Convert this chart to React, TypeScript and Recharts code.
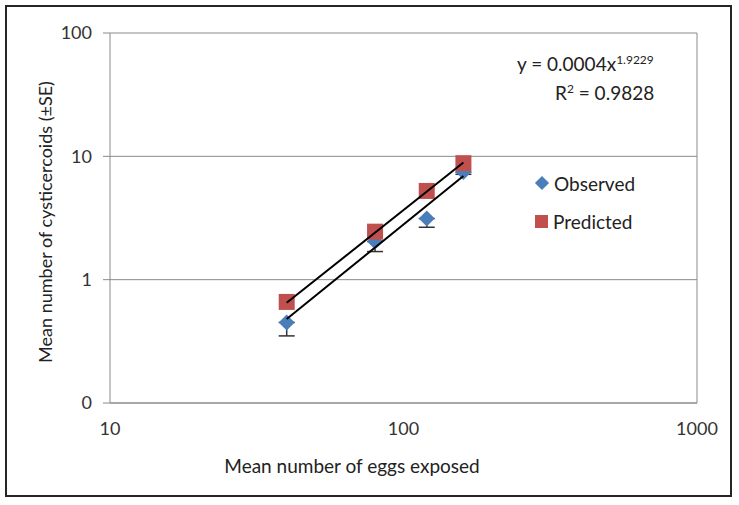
import {
  ScatterChart, Scatter, XAxis, YAxis, CartesianGrid, ErrorBar, ReferenceLine,
} from 'recharts'

const eggs = [40, 80, 120, 160]
const observed = [0.45, 2.04, 3.13, 7.45]
const observedSE = [0.1, 0.35, 0.47, 0.3]
const predicted = [0.66, 2.45, 5.24, 8.8]

const trendX = [40, 160]
const observedTrend = [0.48, 6.92]
const predictedTrend = [0.65, 8.9]

const xTicks = [10, 100, 1000]
const yTicks = [0.1, 1, 10, 100]

const BLUE = '#4a7ebb'
const RED = '#c0504d'
const GRID = '#8a8a8a'
const FONT = 'Lato, "Open Sans", sans-serif'

const obsData = eggs.map((x, i) => ({ x, y: observed[i], se: [observedSE[i], 0] }))
const predData = eggs.map((x, i) => ({ x, y: predicted[i] }))
const obsTrendData = trendX.map((x, i) => ({ x, y: observedTrend[i] }))
const predTrendData = trendX.map((x, i) => ({ x, y: predictedTrend[i] }))

const Diamond = (p: any) => (
  <path d={`M${p.cx},${p.cy - 8}L${p.cx + 8},${p.cy}L${p.cx},${p.cy + 8}L${p.cx - 8},${p.cy}Z`} fill={BLUE} />
)
const Square = (p: any) => <rect x={p.cx - 8} y={p.cy - 8} width={16} height={16} fill={RED} />
const NoDot = () => <g />

const tick = { fontSize: 18, fill: '#333', fontFamily: FONT }

export default function App() {
  return (
    <div style={{ position: 'absolute', left: 0, top: 0, width: 739, height: 505, background: '#fff', fontFamily: FONT }}>
      <div style={{
        position: 'absolute', left: 5, top: 5, width: 727, height: 492,
        border: '2px solid #262626', boxSizing: 'border-box',
      }} />
      <ScatterChart width={739} height={505} margin={{ top: 33, right: 42, bottom: 72, left: 0 }}>
        <CartesianGrid vertical={false} stroke={GRID} />
        <XAxis
          type="number" dataKey="x" scale="log" domain={[10, 1000]} ticks={xTicks}
          allowDataOverflow height={30} tickLine={false} tickSize={0} tickMargin={19}
          axisLine={{ stroke: GRID }} tick={tick}
        />
        <YAxis
          type="number" dataKey="y" scale="log" domain={[0.1, 100]} ticks={yTicks}
          allowDataOverflow width={110} tickSize={7} tickMargin={11}
          tickLine={{ stroke: GRID }} axisLine={{ stroke: GRID }} tick={tick}
          tickFormatter={(v: number) => (v === 0.1 ? '0' : String(v))}
        />
        <ReferenceLine x={1000} stroke={GRID} />
        <Scatter name="Observed" data={obsData} shape={Diamond} isAnimationActive={false}>
          <ErrorBar dataKey="se" direction="y" width={8} stroke="#333" strokeWidth={1.5} />
        </Scatter>
        <Scatter name="Predicted" data={predData} shape={Square} isAnimationActive={false} />
        <Scatter data={obsTrendData} shape={NoDot} line={{ stroke: '#000', strokeWidth: 2 }} isAnimationActive={false} />
        <Scatter data={predTrendData} shape={NoDot} line={{ stroke: '#000', strokeWidth: 2 }} isAnimationActive={false} />
      </ScatterChart>

      <div style={{
        position: 'absolute', left: 45, top: 222, transform: 'translate(-50%, -50%) rotate(-90deg)',
        whiteSpace: 'nowrap', fontSize: 18, color: '#222',
      }}>Mean number of cysticercoids (±SE)</div>
      <div style={{
        position: 'absolute', left: 352, top: 465, transform: 'translate(-50%, -50%)',
        whiteSpace: 'nowrap', fontSize: 19, color: '#222',
      }}>Mean number of eggs exposed</div>

      <div style={{ position: 'absolute', left: 517, top: 47, fontSize: 19, color: '#222', lineHeight: '25px' }}>
        <div>y = 0.0004x<sup style={{ fontSize: 12 }}>1.9229</sup></div>
        <div style={{ paddingLeft: 38 }}>R<sup style={{ fontSize: 12 }}>2</sup> = 0.9828</div>
      </div>

      <div style={{ position: 'absolute', left: 535, top: 171, fontSize: 19, color: '#222' }}>
        <div style={{ display: 'flex', alignItems: 'center', height: 24, marginBottom: 14 }}>
          <span style={{ width: 10, height: 10, background: BLUE, transform: 'rotate(45deg)', marginRight: 7, marginLeft: 2 }} />
          Observed
        </div>
        <div style={{ display: 'flex', alignItems: 'center', height: 24 }}>
          <span style={{ width: 13, height: 13, background: RED, marginRight: 5 }} />
          Predicted
        </div>
      </div>
    </div>
  )
}
